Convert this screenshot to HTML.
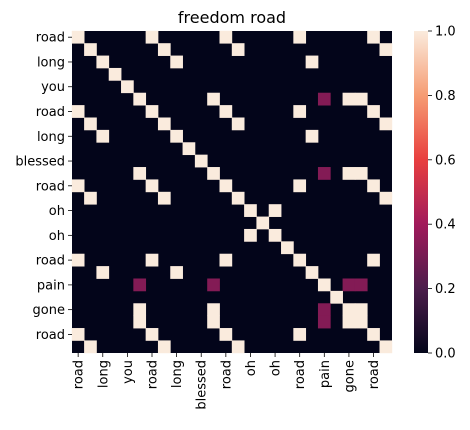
<!DOCTYPE html>
<html><head><meta charset="utf-8"><style>
html,body{margin:0;padding:0;background:#fff;}
svg text{font-family:"DejaVu Sans","Liberation Sans",sans-serif;fill:#000;}
</style></head><body>
<svg id="chart" width="470" height="425">
<text x="232" y="23" text-anchor="middle" font-size="16">freedom road</text>
<g id="cells"></g>
<g id="ylab"></g>
<g id="xlab"></g>
<g id="cbar"></g>
</svg>
<script>
const tokens = ["road","","long","","you","","road","","long","","blessed","","road","","oh","","oh","","road","","pain","","gone","","road",""];
const P = 0.33;
const rows = [
 [[0,1],[6,1],[12,1],[18,1],[24,1]],
 [[1,1],[7,1],[13,1],[25,1]],
 [[2,1],[8,1],[19,1]],
 [[3,1]],
 [[4,1]],
 [[5,1],[11,1],[20,P],[22,1],[23,1]],
 [[0,1],[6,1],[12,1],[18,1],[24,1]],
 [[1,1],[7,1],[13,1],[25,1]],
 [[2,1],[8,1],[19,1]],
 [[9,1]],
 [[10,1]],
 [[5,1],[11,1],[20,P],[22,1],[23,1]],
 [[0,1],[6,1],[12,1],[18,1],[24,1]],
 [[1,1],[7,1],[13,1],[25,1]],
 [[14,1],[16,1]],
 [[15,1]],
 [[14,1],[16,1]],
 [[17,1]],
 [[0,1],[6,1],[12,1],[18,1],[24,1]],
 [[2,1],[8,1],[19,1]],
 [[5,P],[11,P],[20,1],[22,P],[23,P]],
 [[21,1]],
 [[5,1],[11,1],[20,P],[22,1],[23,1]],
 [[5,1],[11,1],[20,P],[22,1],[23,1]],
 [[0,1],[6,1],[12,1],[18,1],[24,1]],
 [[1,1],[7,1],[13,1],[25,1]]
];
const cbTicks = [0,0.2,0.4,0.6,0.8,1.0];
const NS="http://www.w3.org/2000/svg";
const X0=72,X1=392,Y0=31,Y1=353,n=tokens.length;
const cw=(X1-X0)/n, ch=(Y1-Y0)/n;
const xs=i=>X0+i*cw, ys=i=>Y0+i*ch;
const stops=[[0,[3,5,26]],[0.2,[76,29,75]],[0.4,[161,26,91]],[0.6,[232,63,63]],[0.8,[246,156,115]],[1,[250,235,221]]];
function color(v){for(let k=1;k<stops.length;k++){if(v<=stops[k][0]){const a=stops[k-1],b=stops[k],t=(v-a[0])/(b[0]-a[0]);return "rgb("+a[1].map((c,j)=>Math.round(c+(b[1][j]-c)*t)).join(",")+")";}}return "rgb(250,235,221)";}
function mk(tag,attrs,parent){const e=document.createElementNS(NS,tag);for(const k in attrs)e.setAttribute(k,attrs[k]);parent.appendChild(e);return e;}
const cells=document.getElementById('cells');
const bg=mk('rect',{x:X0,y:Y0,width:X1-X0,height:Y1-Y0,fill:color(0)},cells);


rows.forEach((r,i)=>r.forEach(([j,v])=>{
 const c=mk('rect',{x:xs(j)-0.2,y:ys(i)-0.2,width:cw+0.4,height:ch+0.4,fill:color(v)},cells);
 
 
}));
const yl=document.getElementById('ylab'), xl=document.getElementById('xlab');
tokens.forEach((t,i)=>{
 if(i%2) return;
 const cy=ys(i)+ch/2, cx=xs(i)+cw/2;
 mk('line',{x1:X0-4,x2:X0,y1:cy,y2:cy,stroke:'#000','stroke-width':0.8},yl);
 const ty=mk('text',{x:X0-7,y:cy+4.5,'text-anchor':'end','font-size':13},yl);
 ty.textContent=t;
 
 
 mk('line',{x1:cx,x2:cx,y1:Y1,y2:Y1+4,stroke:'#000','stroke-width':0.8},xl);
 const tx=mk('text',{x:0,y:0,'text-anchor':'end','font-size':13,transform:'translate('+(cx+4.5)+','+(Y1+7)+') rotate(-90)'},xl);
 tx.textContent=t;
 
 
});
const cb=document.getElementById('cbar');
const CX=414,CW=14;
const defs=mk('defs',{},cb);
const g=mk('linearGradient',{id:'cg',x1:0,y1:1,x2:0,y2:0},defs);
stops.forEach(s=>mk('stop',{offset:s[0],'stop-color':color(s[0])},g));
const cr=mk('rect',{x:CX,y:Y0,width:CW,height:Y1-Y0,fill:'url(#cg)'},cb);


cbTicks.forEach(v=>{
 const y=Y1-v*(Y1-Y0);
 mk('line',{x1:CX+CW,x2:CX+CW+4,y1:y,y2:y,stroke:'#000','stroke-width':0.8},cb);
 const t=mk('text',{x:CX+CW+7,y:y+4.5,'font-size':13},cb);
 t.textContent=v.toFixed(1);
 
 
});
</script>
</body></html>
